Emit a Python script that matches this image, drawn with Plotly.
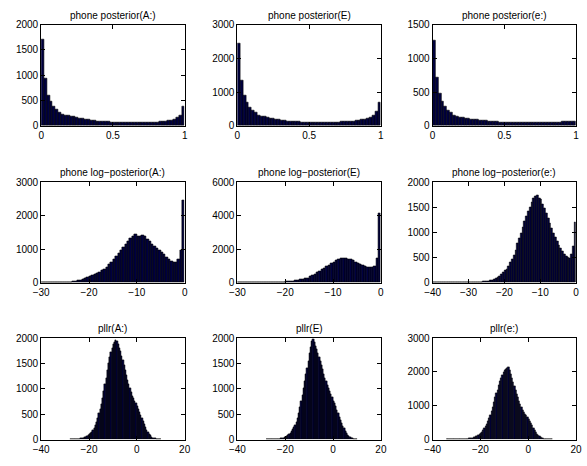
import numpy as np
import plotly.graph_objects as go

# ---- histogram counts (bin start, bin width, counts) ----
post_A = [1700, 930, 600, 480, 390, 320, 270, 230, 210, 200, 190, 180, 165, 150, 140,
          130, 120, 110, 100, 95, 90, 85, 80, 80, 75, 75, 72, 70, 68, 66, 65, 65, 63,
          63, 64, 65, 66, 68, 70, 72, 75, 80, 85, 90, 100, 110, 130, 160, 210, 380]
post_E = [2450, 1350, 900, 700, 550, 450, 380, 320, 290, 270, 250, 230, 210, 190, 175,
          160, 150, 140, 130, 125, 120, 115, 110, 105, 100, 100, 98, 95, 95, 95, 95, 97,
          100, 100, 105, 110, 115, 120, 125, 130, 140, 150, 160, 175, 190, 210, 250, 320,
          420, 700]
post_e = [1270, 720, 480, 360, 280, 220, 190, 160, 140, 130, 120, 115, 110, 100, 95, 90,
          85, 80, 75, 70, 65, 60, 58, 55, 55, 52, 50, 50, 48, 48, 47, 47, 46, 46, 47, 47,
          48, 48, 50, 50, 52, 52, 54, 55, 56, 58, 60, 62, 65, 70]

logpost_A = [2, 3, 3, 4, 5, 6, 7, 8, 10, 12,
             15, 20, 25, 35, 45, 60, 75, 95, 120, 150,
             180, 210, 245, 285, 320, 360, 410, 470, 540, 620,
             700, 790, 880, 970, 1070, 1160, 1250, 1330, 1380, 1440,
             1400, 1380, 1420, 1380, 1300, 1230, 1160, 1090, 1040, 980,
             910, 840, 760, 700, 640, 600, 620, 700, 980, 2450]
logpost_E = [3, 3, 4, 4, 5, 6, 7, 8, 9, 10,
             12, 14, 16, 18, 20, 24, 28, 33, 38, 45,
             55, 70, 90, 110, 135, 160, 185, 210, 240, 290,
             350, 420, 500, 600, 700, 780, 860, 950, 1050, 1140,
             1230, 1310, 1380, 1430, 1460, 1440, 1420, 1370, 1310, 1230,
             1160, 1080, 1020, 970, 940, 910, 900, 1000, 1450, 4150]
logpost_e = [0, 0, 0, 0, 1, 1, 1, 1, 1, 2,
             2, 2, 3, 3, 3, 4, 4, 5, 5, 6,
             6, 7, 8, 9, 10, 12, 14, 16, 19, 22,
             26, 32, 40, 52, 68, 88, 110, 135, 165, 200,
             240, 270, 330, 400, 470, 540, 650, 780, 880, 980,
             1100, 1220, 1320, 1420, 1510, 1600, 1680, 1730, 1740, 1690,
             1660, 1570, 1480, 1390, 1290, 1180, 1080, 990, 905, 820,
             745, 680, 620, 570, 535, 500, 490, 560, 720, 1210]

pllr_A = [3, 3, 4, 4, 5, 6, 8, 10, 14, 18, 24, 32, 42, 52, 65, 80, 100, 120, 150, 185,
          225, 275, 340, 420, 510, 600, 700, 820, 960, 1090, 1215, 1360, 1500, 1620,
          1725, 1810, 1885, 1930, 1960, 1935, 1880, 1810, 1740, 1650, 1565, 1470, 1375,
          1270, 1165, 1090, 1010, 935, 865, 810, 765, 710, 650, 600, 545, 480, 415, 360,
          305, 250, 190, 150, 115, 80, 50, 35, 25, 18, 12, 8, 5, 3]
pllr_E = [2, 2, 3, 3, 4, 4, 5, 6, 7, 8, 10, 13, 17, 22, 30, 40, 50, 65, 85, 105,
          130, 160, 195, 240, 290, 350, 420, 520, 640, 760, 880, 1010, 1150, 1280,
          1405, 1550, 1695, 1830, 1950, 1990, 1915, 1850, 1790, 1710, 1630, 1550, 1470,
          1380, 1280, 1210, 1150, 1080, 1010, 950, 895, 830, 765, 710, 650, 580, 510,
          445, 385, 325, 270, 215, 160, 125, 95, 70, 50, 30, 20, 12, 6, 3]
pllr_e = [2, 2, 3, 3, 4, 4, 5, 6, 7, 8, 9, 10, 12, 13, 15, 17, 20, 24, 28, 34, 40, 48,
          58, 72, 90, 110, 135, 160, 190, 230, 280, 330, 380, 450, 530, 620, 715, 830,
          960, 1100, 1240, 1360, 1475, 1600, 1715, 1810, 1905, 1980, 2050, 2090, 2115,
          2140, 2050, 1930, 1810, 1690, 1570, 1450, 1335, 1240, 1145, 1050, 950, 880,
          810, 760, 715, 650, 590, 530, 475, 410, 335, 270, 210, 160, 115, 85, 65, 45,
          30, 20, 12, 8, 5, 3, 2, 1]

titles = ["phone posterior(A:)", "phone posterior(E)", "phone posterior(e:)",
          "phone log\u2212posterior(A:)", "phone log\u2212posterior(E)", "phone log\u2212posterior(e:)",
          "pllr(A:)", "pllr(E)", "pllr(e:)"]

# (counts, first bin edge, bin width, x range, x dtick, y max, y dtick)
panels = [
    (post_A, 0.0, 0.02, [0, 1], 0.5, 2000, 500),
    (post_E, 0.0, 0.02, [0, 1], 0.5, 3000, 1000),
    (post_e, 0.0, 0.02, [0, 1], 0.5, 1500, 500),
    (logpost_A, -30.0, 0.5, [-30, 0], 10, 3000, 1000),
    (logpost_E, -30.0, 0.5, [-30, 0], 10, 6000, 2000),
    (logpost_e, -40.0, 0.5, [-40, 0], 10, 2000, 500),
    (pllr_A, -28.0, 0.5, [-40, 20], 20, 2000, 500),
    (pllr_E, -28.0, 0.5, [-40, 20], 20, 2000, 500),
    (pllr_e, -34.0, 0.5, [-40, 20], 20, 3000, 1000),
]

W, H = 587, 466
col_left = [34, 235, 435]
col_width = 147
row_top = [19, 181, 341]
row_bottom = [123, 284, 445]

FONT = "Liberation Sans, Arial, Helvetica, sans-serif"

fig = go.Figure()
layout = dict(
    width=W, height=H, margin=dict(l=0, r=0, t=0, b=0),
    paper_bgcolor="white", plot_bgcolor="white",
    showlegend=False, bargap=0,
    font=dict(family=FONT, size=10, color="black"),
)
annotations = []

for i, (counts, start, width, xr, xdt, ymax, ydt) in enumerate(panels):
    r, c = divmod(i, 3)
    n = i + 1
    xa = "x" if n == 1 else f"x{n}"
    ya = "y" if n == 1 else f"y{n}"
    centers = start + width * (np.arange(len(counts)) + 0.5)
    fig.add_trace(go.Bar(
        x=centers, y=counts, width=width, xaxis=xa, yaxis=ya,
        marker=dict(color="#000040", line=dict(color="black", width=0.6)),
    ))
    x0 = col_left[c] / W
    x1 = (col_left[c] + col_width) / W
    y0 = 1 - row_bottom[r] / H
    y1 = 1 - row_top[r] / H
    common = dict(showline=True, linecolor="black", linewidth=1, mirror="ticks",
                  ticks="inside", ticklen=4, tickcolor="black", showgrid=False,
                  zeroline=False, tickfont=dict(family=FONT, size=10, color="black"))
    layout["xaxis" if n == 1 else f"xaxis{n}"] = dict(
        domain=[x0, x1], anchor=ya, range=xr, dtick=xdt, tick0=0, **common)
    layout["yaxis" if n == 1 else f"yaxis{n}"] = dict(
        domain=[y0, y1], anchor=xa, range=[0, ymax], dtick=ydt, tick0=0, **common)
    annotations.append(dict(
        text=titles[i], xref="paper", yref="paper", x=(x0 + x1) / 2, y=y1,
        xanchor="center", yanchor="bottom", yshift=2, showarrow=False,
        font=dict(family=FONT, size=10, color="black")))

layout["annotations"] = annotations
fig.update_layout(**layout)
fig.write_html("out.html")
